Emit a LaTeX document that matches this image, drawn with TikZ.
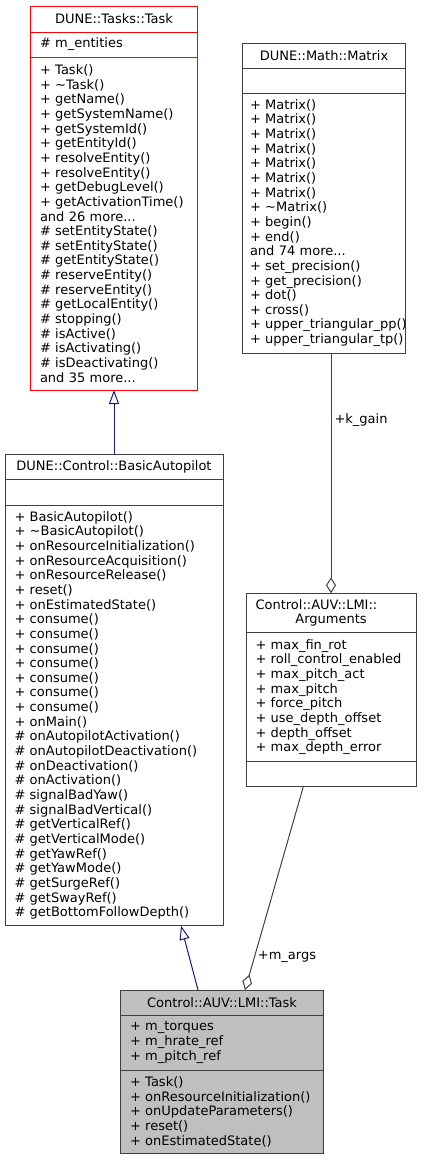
\documentclass[tikz,border=0pt]{standalone}
\usepackage{fontspec}
\setmainfont{DejaVu Sans}
\usepackage{tikz}
\usepackage{xcolor}
\usetikzlibrary{arrows.meta,positioning}
\definecolor{edgeGray}{HTML}{404040}
\definecolor{undocRed}{HTML}{FF0000}
\definecolor{focusFill}{HTML}{BFBFBF}
\definecolor{inheritBlue}{HTML}{191970}
\newcommand{\classFont}{\fontsize{13}{14.65}\selectfont\hyphenpenalty=10000\exhyphenpenalty=10000\relax}
\tikzstyle{classBox}=[draw=edgeGray, fill=white, line width=1pt, outer sep=0pt, inner xsep=9.5pt, inner ysep=3pt, align=left, font=\classFont]
\tikzstyle{classTitle}=[classBox, align=center]
\tikzstyle{edgeLabel}=[font=\classFont, inner sep=3pt]
\tikzstyle{inheritPath} = [-{Triangle[open,length=14pt,width=10pt]}, draw=inheritBlue, line width=1pt]
\tikzstyle{aggrPath} = [-{Diamond[open,length=16pt,width=10pt]}, draw=edgeGray, line width=1pt]

\begin{document}
\begin{tikzpicture}[x=1pt,y=-1pt]
   \useasboundingbox (0,0) rectangle (425,1160);

   % DUNE::Tasks::Task
   \node[classTitle, draw=undocRed, text width=148pt, minimum height=26pt] (task) at (114,19) {DUNE::Tasks::Task};
   \node[classBox, draw=undocRed, text width=148pt, minimum height=25pt, below=0pt of task] (taskAttr) {\#~m\_entities};
   \node[classBox, draw=undocRed, text width=148pt, minimum height=333pt, below=0pt of taskAttr] (taskOps) {+~Task()\\ +~\textasciitilde Task()\\ +~getName()\\ +~getSystemName()\\ +~getSystemId()\\ +~getEntityId()\\ +~resolveEntity()\\ +~resolveEntity()\\ +~getDebugLevel()\\ +~getActivationTime()\\ and 26 more...\\ \#~setEntityState()\\ \#~setEntityState()\\ \#~getEntityState()\\ \#~reserveEntity()\\ \#~reserveEntity()\\ \#~getLocalEntity()\\ \#~stopping()\\ \#~isActive()\\ \#~isActivating()\\ \#~isDeactivating()\\ and 35 more...};

   % DUNE::Math::Matrix
   \node[classTitle, text width=148pt, inner xsep=7.5pt, minimum height=25pt] (matrix) at (324,55.5) {DUNE::Math::Matrix};
   \node[classBox, text width=148pt, inner xsep=7.5pt, minimum height=25pt, below=0pt of matrix] (matrixAttr) {};
   \node[classBox, text width=148pt, inner xsep=7.5pt, minimum height=260pt, below=0pt of matrixAttr] (matrixOps) {+~Matrix()\\ +~Matrix()\\ +~Matrix()\\ +~Matrix()\\ +~Matrix()\\ +~Matrix()\\ +~Matrix()\\ +~\textasciitilde Matrix()\\ +~begin()\\ +~end()\\ and 74 more...\\ +~set\_precision()\\ +~get\_precision()\\ +~dot()\\ +~cross()\\ +~upper\_triangular\_pp()\\ +~upper\_triangular\_tp()};

   % DUNE::Control::BasicAutopilot
   \node[classTitle, text width=199pt, minimum height=25pt] (autopilot) at (114,466.5) {DUNE::Control::BasicAutopilot};
   \node[classBox, text width=199pt, minimum height=26pt, below=0pt of autopilot] (autopilotAttr) {};
   \node[classBox, text width=199pt, minimum height=420.7pt, below=0pt of autopilotAttr] (autopilotOps) {+~BasicAutopilot()\\ +~\textasciitilde BasicAutopilot()\\ +~onResourceInitialization()\\ +~onResourceAcquisition()\\ +~onResourceRelease()\\ +~reset()\\ +~onEstimatedState()\\ +~consume()\\ +~consume()\\ +~consume()\\ +~consume()\\ +~consume()\\ +~consume()\\ +~consume()\\ +~onMain()\\ \#~onAutopilotActivation()\\ \#~onAutopilotDeactivation()\\ \#~onDeactivation()\\ \#~onActivation()\\ \#~signalBadYaw()\\ \#~signalBadVertical()\\ \#~getVerticalRef()\\ \#~getVerticalMode()\\ \#~getYawRef()\\ \#~getYawMode()\\ \#~getSurgeRef()\\ \#~getSwayRef()\\ \#~getBottomFollowDepth()};

   % Control::AUV::LMI::Arguments
   \node[classTitle, text width=151pt, minimum height=39pt] (args) at (331,612.8) {\hbox to \hsize{Control::AUV::LMI::\hfil}\\ Arguments};
   \node[classBox, text width=151pt, minimum height=129.4pt, below=0pt of args] (argsAttr) {+~max\_fin\_rot\\ +~roll\_control\_enabled\\ +~max\_pitch\_act\\ +~max\_pitch\\ +~force\_pitch\\ +~use\_depth\_offset\\ +~depth\_offset\\ +~max\_depth\_error};
   \node[classBox, text width=151pt, minimum height=24.3pt, below=0pt of argsAttr] (argsOps) {};

   % Control::AUV::LMI::Task
   \node[classTitle, fill=focusFill, text width=184pt, minimum height=25pt] (lmi) at (222,1002.5) {Control::AUV::LMI::Task};
   \node[classBox, fill=focusFill, text width=184pt, minimum height=55pt, below=0pt of lmi] (lmiAttr) {+~m\_torques\\ +~m\_hrate\_ref\\ +~m\_pitch\_ref};
   \node[classBox, fill=focusFill, text width=184pt, minimum height=83.3pt, below=0pt of lmiAttr] (lmiOps) {+~Task()\\ +~onResourceInitialization()\\ +~onUpdateParameters()\\ +~reset()\\ +~onEstimatedState()};

   % inheritance and member edges
   \draw[inheritPath] (autopilot) -- (taskOps);
   \draw[inheritPath] ([xshift=-24pt]lmi.north) -- ([xshift=67pt]autopilotOps.south);
   \draw[aggrPath] (args.north |- matrixOps.south) -- (args.north) node[edgeLabel, pos=0.28, right] {+k\_gain};
   \draw[aggrPath] ([xshift=-27.5pt]argsOps.south) -- ([xshift=23pt]lmi.north) node[edgeLabel, pos=0.84, right] {+m\_args};

\end{tikzpicture}
\end{document}
